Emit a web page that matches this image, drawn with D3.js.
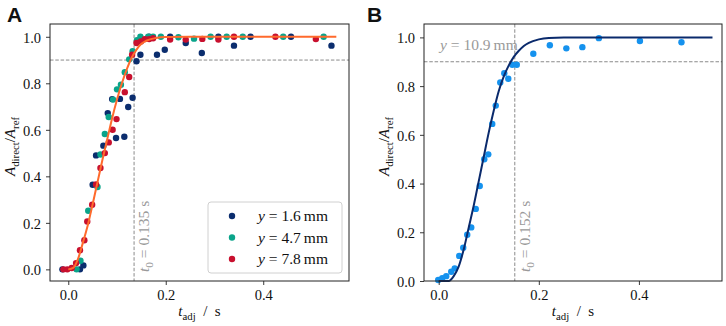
<!DOCTYPE html>
<html>
<head>
<meta charset="utf-8">
<script src="https://cdn.jsdelivr.net/npm/d3@7"></script>
<style>
  body { margin: 0; background: #fff; }
  svg { display: block; }
  svg text { font-family: "Liberation Serif", "DejaVu Serif", serif; }
  svg text.panel-letter { font-family: "Liberation Sans", Arial, sans-serif; font-weight: bold; }
</style>
</head>
<body>
<div id="chart"></div>
<script>
// Panel A: scattered points per distance y as [t_adj, A_direct/A_ref]
const seriesNames = ["1.6", "4.7", "7.8"];
const seriesColors = ["#0b2d6e", "#0aa48a", "#c8102e"];

const navyPts = [[-0.012,0.0],[0.024,0.0],[0.031,0.017],[0.05,0.364],[0.057,0.49],[0.072,0.532],
  [0.081,0.672],[0.09,0.732],[0.098,0.565],[0.106,0.733],[0.115,0.57],[0.123,0.698],[0.132,0.738],
  [0.14,0.895],[0.148,0.923],[0.166,1.0],[0.182,0.923],[0.198,0.944],[0.209,1.0],[0.241,0.973],
  [0.274,0.93],[0.308,1.0],[0.34,0.962],[0.374,1.0],[0.457,1.0],[0.54,0.962]];

const tealPts = [[0.017,0.0],[0.025,0.037],[0.041,0.252],[0.06,0.354],[0.066,0.494],[0.075,0.582],
  [0.083,0.655],[0.092,0.73],[0.1,0.774],[0.108,0.794],[0.116,0.848],[0.125,0.903],[0.132,0.938],
  [0.141,0.985],[0.148,1.0],[0.164,1.0],[0.174,1.0],[0.19,1.0],[0.226,0.998],[0.258,0.992],
  [0.292,1.0],[0.325,1.0],[0.358,1.0],[0.441,1.0],[0.524,1.0]];

const redPts = [[-0.01,0.0],[-0.002,0.0],[0.007,0.006],[0.016,0.027],[0.024,0.082],[0.033,0.125],
  [0.039,0.206],[0.049,0.278],[0.057,0.365],[0.066,0.436],[0.075,0.5],[0.083,0.546],[0.091,0.6],
  [0.099,0.646],[0.116,0.762],[0.125,0.827],[0.131,0.923],[0.14,0.973],[0.149,0.98],[0.157,0.99],
  [0.166,0.99],[0.174,0.994],[0.209,0.988],[0.241,0.988],[0.275,0.991],[0.308,0.988],[0.34,1.0],
  [0.425,1.0],[0.508,0.99]];

// Panel A fitted curve
const fitA = [[0.0,0.0],[0.01,0.006],[0.02,0.045],[0.03,0.115],[0.04,0.19],[0.05,0.28],[0.06,0.375],
  [0.07,0.47],[0.08,0.56],[0.09,0.65],[0.1,0.73],[0.11,0.8],[0.12,0.86],[0.13,0.91],[0.14,0.945],
  [0.15,0.97],[0.16,0.983],[0.18,0.995],[0.2,0.999],[0.25,1.0],[0.55,1.0]];

// Panel B: y = 10.9 mm
const bluePts = [[-0.001,0.004],[0.007,0.011],[0.015,0.02],[0.025,0.038],[0.032,0.052],[0.041,0.103],
  [0.049,0.137],[0.057,0.19],[0.065,0.22],[0.074,0.296],[0.082,0.39],[0.091,0.5],[0.099,0.52],
  [0.107,0.645],[0.114,0.72],[0.123,0.815],[0.131,0.853],[0.139,0.83],[0.147,0.888],[0.156,0.888],
  [0.189,0.933],[0.222,0.968],[0.255,0.955],[0.287,0.96],[0.32,0.997],[0.402,0.985],[0.485,0.98]];

const fitB = [[0.0,0.0],[0.02,0.0],[0.03,0.02],[0.04,0.06],[0.05,0.13],[0.06,0.22],[0.07,0.31],
  [0.08,0.41],[0.09,0.51],[0.1,0.61],[0.11,0.7],[0.12,0.78],[0.13,0.84],[0.14,0.885],[0.15,0.92],
  [0.16,0.945],[0.17,0.965],[0.18,0.978],[0.2,0.992],[0.22,0.998],[0.25,1.0],[0.547,1.0]];

const xTicks = [0.0, 0.2, 0.4];
const yTicks = [0.0, 0.2, 0.4, 0.6, 0.8, 1.0];
const t0A = 0.135, t0B = 0.152, threshold = 0.9;

const width = 726, height = 326;
const serif = "'Liberation Serif', 'DejaVu Serif', serif";
const svg = d3.select("#chart").append("svg")
  .attr("width", width).attr("height", height);

function subLabel(sel, parts) {
  // parts: [text, italic, sub]
  parts.forEach(p => {
    const ts = sel.append("tspan").text(p[0]);
    if (p[1]) ts.attr("font-style", "italic");
    if (p[2] === 1) ts.attr("font-size", "0.72em").attr("dy", 4);
    if (p[2] === -1) ts.attr("dy", -4);
  });
}

function panel(opt) {
  const x = d3.scaleLinear().domain(opt.xDomain).range([opt.left, opt.right]);
  const y = d3.scaleLinear().domain(opt.yDomain).range([opt.bottom, opt.top]);
  const g = svg.append("g");

  // dashed guides
  g.append("line")
    .attr("x1", opt.left).attr("x2", opt.right)
    .attr("y1", y(threshold)).attr("y2", y(threshold))
    .attr("stroke", "#8a8a8a").attr("stroke-width", 1).attr("stroke-dasharray", "3.5,1.8");
  g.append("line")
    .attr("x1", x(opt.t0)).attr("x2", x(opt.t0))
    .attr("y1", opt.top).attr("y2", opt.bottom)
    .attr("stroke", "#8a8a8a").attr("stroke-width", 1).attr("stroke-dasharray", "3.5,1.8");

  // points
  opt.series.forEach(s => {
    g.append("g").selectAll("circle")
      .data(s.data)
      .join("circle")
      .attr("cx", d => x(d[0]))
      .attr("cy", d => y(d[1]))
      .attr("r", 3.2)
      .attr("fill", s.color);
  });

  // fit line
  const line = d3.line().x(d => x(d[0])).y(d => y(d[1])).curve(d3.curveMonotoneX);
  g.append("path")
    .datum(opt.fit)
    .attr("d", line)
    .attr("fill", "none")
    .attr("stroke", opt.fitColor)
    .attr("stroke-width", 2);

  // axes
  const xAxis = g.append("g")
    .attr("transform", `translate(0,${opt.bottom})`)
    .call(d3.axisBottom(x).tickValues(xTicks).tickFormat(d3.format(".1f")).tickSizeOuter(0).tickSize(4).tickPadding(5));
  const yAxis = g.append("g")
    .attr("transform", `translate(${opt.left},0)`)
    .call(d3.axisLeft(y).tickValues(yTicks).tickFormat(d3.format(".1f")).tickSizeOuter(0).tickSize(4).tickPadding(5));
  [xAxis, yAxis].forEach(a => {
    a.attr("font-family", null).attr("font-size", null);
    a.select(".domain").remove();
    a.selectAll(".tick line").attr("stroke", "#222").attr("stroke-width", 0.9);
    a.selectAll(".tick text")
      .style("font-family", serif).style("font-size", "14.5px").attr("fill", "#111");
  });
  yAxis.selectAll(".tick text").attr("dy", "0.36em");

  // frame
  g.append("rect")
    .attr("x", opt.left).attr("y", opt.top)
    .attr("width", opt.right - opt.left).attr("height", opt.bottom - opt.top)
    .attr("fill", "none").attr("stroke", "#222").attr("stroke-width", 1);

  // axis labels
  const xl = g.append("text")
    .attr("x", (opt.left + opt.right) / 2).attr("y", 316)
    .attr("text-anchor", "middle").attr("font-size", 15).attr("fill", "#111");
  subLabel(xl, [["t", true, 0], ["adj", false, 1], ["\u2002/\u2002s", false, -1]]);

  const yl = g.append("text")
    .attr("transform", `translate(${opt.left - 35},${(opt.top + opt.bottom) / 2 - 6}) rotate(-90)`)
    .attr("text-anchor", "middle").attr("font-size", 15).attr("fill", "#111");
  subLabel(yl, [["A", true, 0], ["direct", false, 1], ["/", false, -1], ["A", true, 0], ["ref", false, 1]]);

  // t0 annotation
  const ta = g.append("text")
    .attr("transform", `translate(${x(opt.t0) + 15},${opt.bottom - 9}) rotate(-90)`)
    .attr("font-size", 15.5).attr("fill", "#9a9a9a");
  subLabel(ta, [["t", true, 0], ["0", false, 1], [` = ${opt.t0} s`, false, -1]]);

  // panel letter
  svg.append("text").attr("class", "panel-letter")
    .attr("x", opt.letterX).attr("y", 22)
    .attr("font-size", 21).attr("fill", "#111")
    .text(opt.letter);

  return { g, x, y };
}

const A = panel({
  left: 50, right: 349, top: 24, bottom: 281,
  xDomain: [-0.0375, 0.576], yDomain: [-0.05, 1.055],
  t0: t0A, fit: fitA, fitColor: "#ff6a2c", letter: "A", letterX: 7,
  series: [
    { data: navyPts, color: seriesColors[0] },
    { data: tealPts, color: seriesColors[1] },
    { data: redPts, color: seriesColors[2] }
  ]
});

// legend for panel A
const leg = A.g.append("g").attr("transform", "translate(208,202)");
leg.append("rect")
  .attr("width", 134).attr("height", 71).attr("rx", 3)
  .attr("fill", "#fff").attr("fill-opacity", 0.8)
  .attr("stroke", "#d0d0d0").attr("stroke-width", 1);
seriesNames.forEach((n, i) => {
  const yy = 14 + i * 21.5;
  leg.append("circle").attr("cx", 24).attr("cy", yy).attr("r", 3.2).attr("fill", seriesColors[i]);
  const t = leg.append("text").attr("x", 50).attr("y", yy + 5)
    .attr("font-size", 15.5).attr("fill", "#111");
  subLabel(t, [["y", true, 0], [` = ${n}\u2009mm`, false, 0]]);
});

const B = panel({
  left: 424, right: 722, top: 24, bottom: 281,
  xDomain: [-0.0294, 0.566], yDomain: [0, 1.055],
  t0: t0B, fit: fitB, fitColor: "#0a2a6c", letter: "B", letterX: 367,
  series: [{ data: bluePts, color: "#1592ee" }]
});

const yb = B.g.append("text")
  .attr("x", 440).attr("y", 50)
  .attr("font-size", 15.5).attr("fill", "#9a9a9a");
subLabel(yb, [["y", true, 0], [" = 10.9\u2009mm", false, 0]]);
</script>
</body>
</html>
